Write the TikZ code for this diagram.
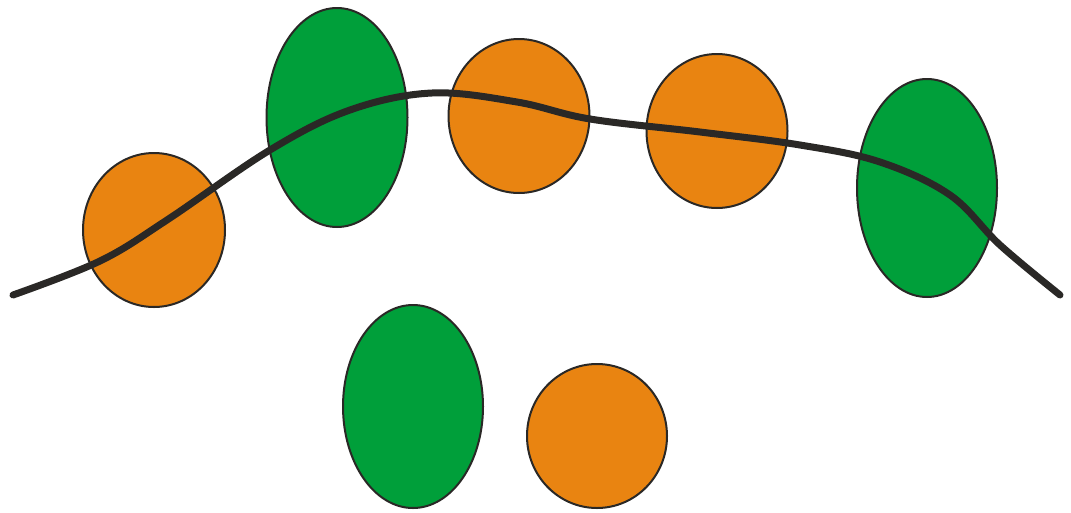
\documentclass[tikz,border=0pt]{standalone}
\definecolor{og}{HTML}{E98411}
\definecolor{gr}{HTML}{009F3A}
\definecolor{ink}{HTML}{2A2826}
\begin{document}
\begin{tikzpicture}[x=1pt,y=-1pt,
  blob/.style={draw=ink,line width=2pt},
  orangeblob/.style={blob,fill=og},
  greenblob/.style={blob,fill=gr},
  curve/.style={draw=ink,line width=7pt,line cap=round,line join=round}]
\useasboundingbox (0,0) rectangle (1071,512);
\path[orangeblob] (154,230) ellipse [x radius=71,y radius=77];
\path[greenblob] (337,117.5) ellipse [x radius=70.5,y radius=109.5];
\path[orangeblob] (519,116) ellipse [x radius=70.5,y radius=77];
\path[orangeblob] (717,131) ellipse [x radius=70.5,y radius=77];
\path[greenblob] (927,188) ellipse [x radius=70,y radius=109];
\path[greenblob] (413,406.5) ellipse [x radius=70,y radius=101.5];
\path[orangeblob] (597,436) ellipse [x radius=70,y radius=72];
\draw[curve] plot[smooth,tension=0.6] coordinates {(13,295) (100,261) (167,220) (270,150) (350,110) (432,93) (517,102) (590,119) (700,132) (800,145) (880,162) (950,195) (1000,245) (1060,295)};
\end{tikzpicture}
\end{document}
